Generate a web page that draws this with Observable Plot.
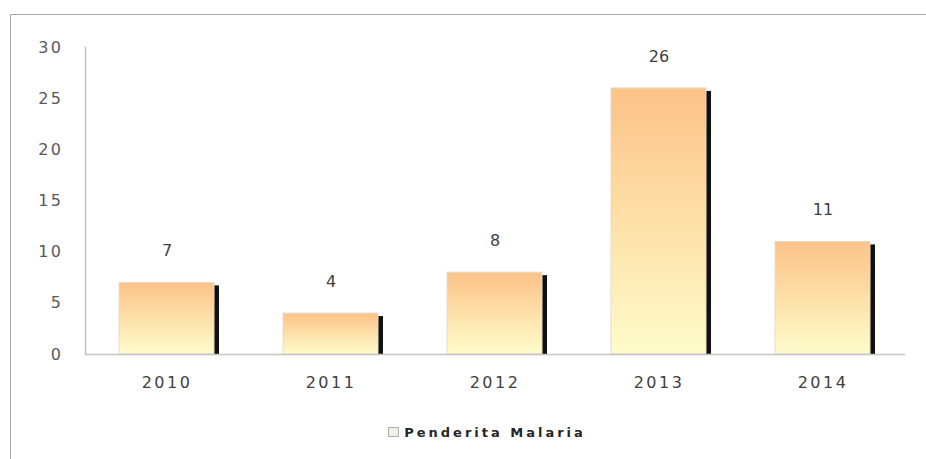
<!DOCTYPE html>
<html>
<head>
<meta charset="utf-8">
<script src="https://cdn.jsdelivr.net/npm/d3@7"></script>
<script src="https://cdn.jsdelivr.net/npm/@observablehq/plot@0.6"></script>
<style>
  html, body { margin: 0; padding: 0; background: #fff; width: 926px; height: 459px; overflow: hidden; }
  #frame { position: absolute; left: 10px; top: 14px; width: 1000px; height: 600px; border-top: 1.5px solid #a6a6a6; border-left: 1.5px solid #a6a6a6; box-sizing: border-box; }
  #chart { position: absolute; left: 0; top: 0; }
  #legend { position: absolute; left: 0; top: 425px; width: 974px; text-align: center; font-family: "DejaVu Sans", sans-serif; font-weight: bold; font-size: 13px; letter-spacing: 3px; color: #262626; }
  #legend .sw { display: inline-block; width: 9px; height: 8px; border: 1px solid #b0b0b0; background: #efefe6; margin-right: 5px; vertical-align: 0px; }
</style>
</head>
<body>
<div id="frame"></div>
<div id="chart"></div>
<div id="legend"><span class="sw"></span>Penderita Malaria</div>
<script>
const years = ["2010", "2011", "2012", "2013", "2014"];
const penderita = [7, 4, 8, 26, 11];
const yTicks = [0, 5, 10, 15, 20, 25, 30];
const seriesName = "Penderita Malaria";

const data = years.map((y, i) => ({year: y, value: penderita[i]}));

const plot = Plot.plot({
  width: 926,
  height: 400,
  marginLeft: 85,
  marginRight: 21,
  marginTop: 47,
  marginBottom: 46,
  style: {fontFamily: "DejaVu Sans, sans-serif", fontSize: "15px", color: "#595959", background: "transparent"},
  x: {domain: years, paddingInner: 0.42, paddingOuter: 0.21, label: null},
  y: {domain: [0, 30], ticks: yTicks, label: null},
  marks: [
    Plot.frame({anchor: "left", stroke: "#c4c4c4", strokeWidth: 1.5}),
    Plot.barY(data, {x: "year", y: "value", fill: "#111", dx: 5, insetTop: 3}),
    Plot.barY(data, {x: "year", y: "value", fill: "url(#barGrad)", stroke: "#e6dccb", strokeWidth: 1}),
    Plot.ruleY([0], {stroke: "#c4c4c4", strokeWidth: 1.5}),
    Plot.text(data, {x: "year", y: "value", text: d => String(d.value), dy: -32, fill: "#404040", fontSize: 16, style: {letterSpacing: "3px"}}),
    Plot.axisY({ticks: yTicks, tickSize: 0, tickPadding: 22, fill: "#595959", fontSize: 16, label: null}),
    Plot.axisX({tickSize: 0, tickPadding: 22, fill: "#404040", fontSize: 16, label: null})
  ]
});

// gradient definition for bars
const ns = "http://www.w3.org/2000/svg";
const defs = document.createElementNS(ns, "defs");
defs.innerHTML = `<linearGradient id="barGrad" x1="0" y1="0" x2="0" y2="1">
  <stop offset="0" stop-color="#fcc288"/>
  <stop offset="0.5" stop-color="#fde0a8"/>
  <stop offset="1" stop-color="#fefccb"/>
</linearGradient>`;
plot.insertBefore(defs, plot.firstChild);
plot.querySelectorAll("[aria-label='x-axis tick label'] text, [aria-label='y-axis tick label'] text").forEach(t => t.style.letterSpacing = "2.5px");
document.getElementById("chart").appendChild(plot);
</script>
</body>
</html>
